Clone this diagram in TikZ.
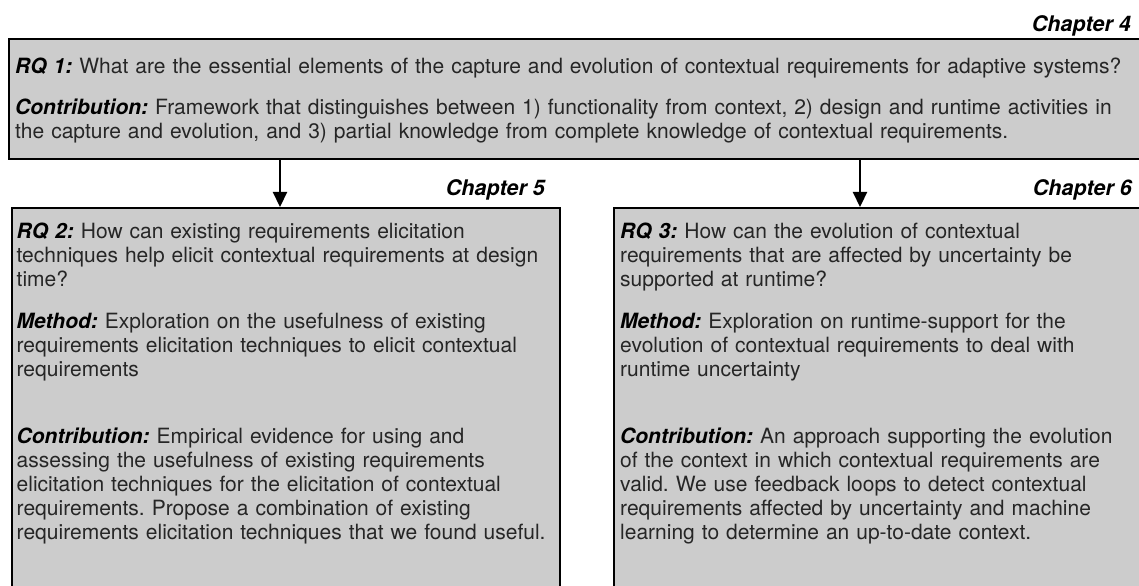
\documentclass[tikz,border=0pt]{standalone}
\usepackage{fontspec}
\setmainfont{TeX Gyre Heros}
\usetikzlibrary{arrows.meta}
\definecolor{boxgray}{HTML}{CCCCCC}
\definecolor{ink}{HTML}{262626}
\newcommand{\lbl}[1]{\textcolor{black}{\textbf{\textit{#1}}}}
\newcommand{\firstline}{\rule{0pt}{18bp}}
\frenchspacing
\tikzset{
  panel/.style={draw=black, fill=boxgray, line width=1.8bp, rectangle,
    anchor=north west, inner sep=0pt},
  body/.style={anchor=north west, inner sep=0pt, align=left, text=ink,
    font=\fontsize{21bp}{24bp}\selectfont},
  chapter/.style={anchor=base east, inner sep=0pt, text=black,
    font=\fontsize{21.5bp}{24bp}\selectfont\bfseries\itshape},
  flow/.style={draw=black, line width=2.2bp, -{Triangle[length=15bp, width=14bp]}}
}
\begin{document}
\begin{tikzpicture}[x=1bp, y=-1bp]
  \useasboundingbox (0,0) rectangle (1139,586);
  \clip (0,0) rectangle (1139,586);

  % panels
  \node[panel, minimum width=1160bp, minimum height=119.5bp] (rq1box) at (8,38.5) {};
  \node[panel, minimum width=548bp, minimum height=420bp] (rq2box) at (11,207) {};
  \node[panel, minimum width=560bp, minimum height=420bp] (rq3box) at (613,207) {};

  % chapter tags
  \node[chapter] (ch4) at (1131,32) {Chapter 4};
  \node[chapter] (ch5) at (545,196) {Chapter 5};
  \node[chapter] (ch6) at (1132,196) {Chapter 6};

  % research question 1
  \node[body, text width=1130bp] (rq1text) at (15,55) {%
    \firstline\lbl{RQ 1:} What are the essential elements of the capture and evolution of contextual requirements for adaptive systems?\\[17bp]
    \lbl{Contribution:} Framework that distinguishes between 1) functionality from context, 2) design and runtime activities in\\
    the capture and evolution, and 3) partial knowledge from complete knowledge of contextual requirements.};

  % research question 2
  \node[body, text width=540bp] (rq2text) at (16.5,220) {%
    \firstline\lbl{RQ 2:} How can existing requirements elicitation\\
    techniques help elicit contextual requirements at design\\
    time?\\[18bp]
    \lbl{Method:} Exploration on the usefulness of existing\\
    requirements elicitation techniques to elicit contextual\\
    requirements\\[43bp]
    \lbl{Contribution:} Empirical evidence for using and\\
    assessing the usefulness of existing requirements\\
    elicitation techniques for the elicitation of contextual\\
    requirements. Propose a combination of existing\\
    requirements elicitation techniques that we found useful.};

  % research question 3
  \node[body, text width=520bp] (rq3text) at (620,220) {%
    \firstline\lbl{RQ 3:} How can the evolution of contextual\\
    requirements that are affected by uncertainty be\\
    supported at runtime?\\[18bp]
    \lbl{Method:} Exploration on runtime-support for the\\
    evolution of contextual requirements to deal with\\
    runtime uncertainty\\[43bp]
    \lbl{Contribution:} An approach supporting the evolution\\
    of the context in which contextual requirements are\\
    valid. We use feedback loops to detect contextual\\
    requirements affected by uncertainty and machine\\
    learning to determine an up-to-date context.};

  % connectors
  \coordinate (in5) at (280,207);
  \coordinate (in6) at (860,207);
  \draw[flow] (rq1box.south -| in5) -- (in5);
  \draw[flow] (rq1box.south -| in6) -- (in6);
\end{tikzpicture}
\end{document}
